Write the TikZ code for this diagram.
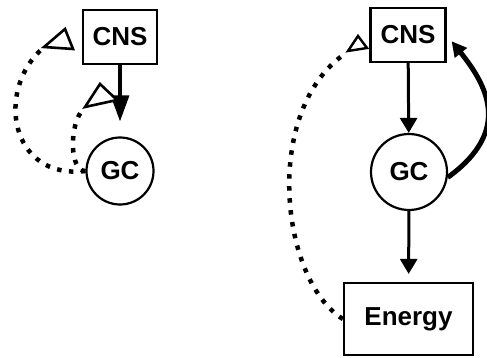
\documentclass[tikz,border=0pt]{standalone}
\usepackage{fontspec}
\setmainfont{Liberation Sans}
\usetikzlibrary{arrows.meta}
\begin{document}
\begin{tikzpicture}[x=1pt,y=-1pt,
  lbl/.style={font=\fontsize{26}{28}\selectfont\bfseries, inner sep=0pt},
  boxnode/.style={lbl, draw, line width=2.2pt, rectangle},
  circnode/.style={lbl, draw, line width=2.2pt, circle},
  dotline/.style={line width=4.5pt, dash pattern=on 4.5pt off 7.5pt},
  opentri/.style={line width=2.6pt, line join=miter, fill=white},
  solidarrow/.style={line width=3pt, -{Triangle[length=15pt,width=17pt]}}
]
\path[use as bounding box] (0,0) rectangle (487,358);
% left diagram
\node[boxnode, minimum width=74pt, minimum height=54pt] (cnsL) at (120,37) {CNS};
\node[circnode, minimum size=67pt] (gcL) at (120,171) {GC};
\draw[line width=3.4pt, -{Triangle[length=26pt,width=18pt]}, shorten >=15pt] (cnsL) -- (gcL);
\coordinate (tL1) at (43,48);
\coordinate (tL2) at (84,108);
\draw[dotline] (gcL.west) .. controls (10,180) and (-5,90) .. (tL1);
\draw[dotline] (gcL.west) .. controls (70,172) and (68,125) .. (tL2);
\draw[opentri] (44,47) -- (65,29) -- (73,49) -- cycle;
\draw[opentri] (85,107) -- (100,84) -- (117,100) -- cycle;
% right diagram
\node[boxnode, minimum width=75pt, minimum height=54pt] (cnsR) at (408,35) {CNS};
\node[circnode, minimum size=76pt] (gcR) at (409,172) {GC};
\node[boxnode, minimum width=129pt, minimum height=72pt] (energy) at (408.5,319) {Energy};
\draw[solidarrow] (cnsR) -- (gcR);
\draw[solidarrow, shorten >=8pt] (gcR) -- (energy);
\draw[line width=5pt, -{Triangle[length=15pt,width=15pt]}, shorten >=8pt]
  (gcR.-8) .. controls +(65,-47) and +(40,50) .. (cnsR.east);
\coordinate (tR) at (346,53);
\draw[dotline] (energy.west) .. controls (280,280) and (262,110) .. (tR);
\draw[opentri, line width=2.4pt] (348,51) -- (358,36) -- (367,48) -- cycle;
\end{tikzpicture}
\end{document}
